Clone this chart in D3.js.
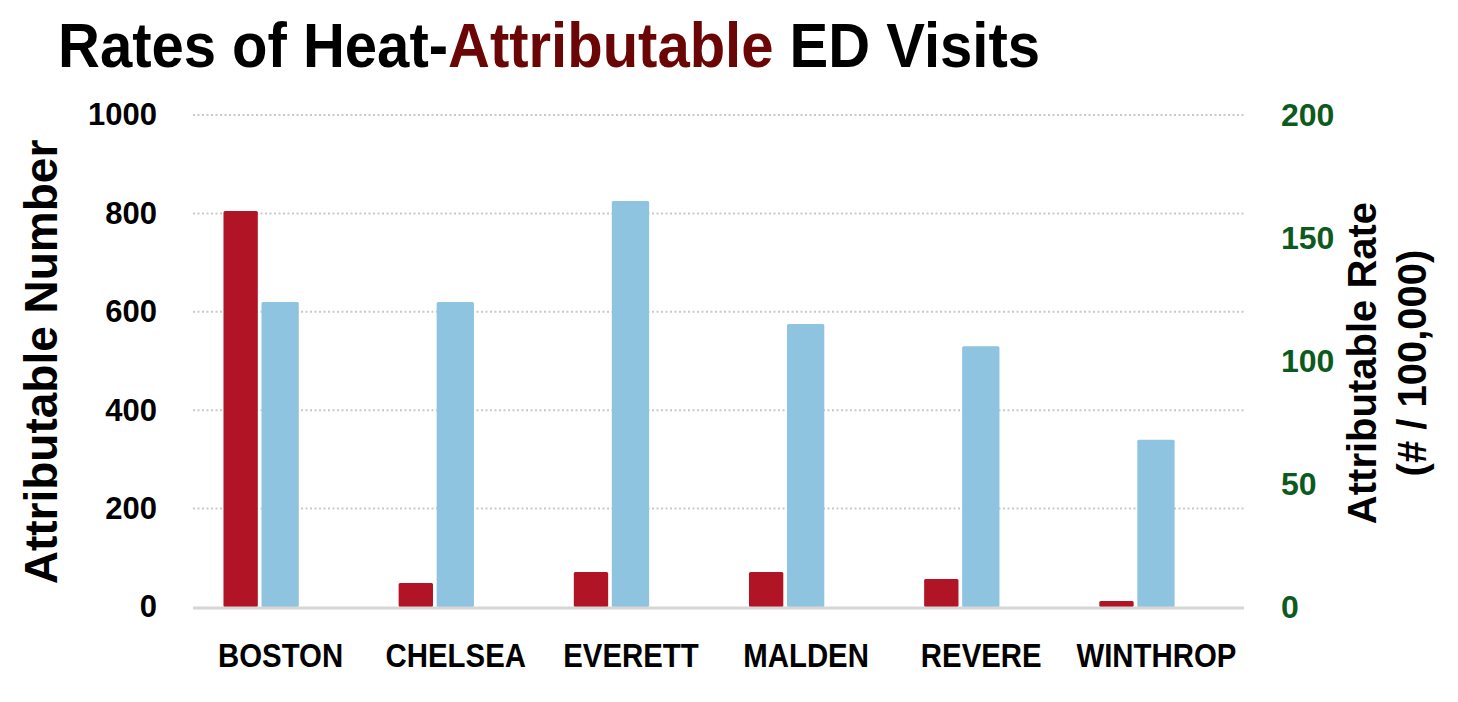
<!DOCTYPE html>
<html>
<head>
<meta charset="utf-8">
<script src="https://cdn.jsdelivr.net/npm/d3@7"></script>
<style>
  body { margin: 0; background: #fff; }
  svg { display: block; font-family: "Liberation Sans", Arial, sans-serif; }
</style>
</head>
<body>
<div id="chart"></div>
<script>
const cities = ["BOSTON", "CHELSEA", "EVERETT", "MALDEN", "REVERE", "WINTHROP"];
const attributableNumber = [805, 49, 71, 71, 57, 12];
const attributableRate = [124, 124, 165, 115, 106, 68];
const numberTicks = [0, 200, 400, 600, 800, 1000];
const rateTicks = [0, 50, 100, 150, 200];

const width = 1458;
const height = 702;
const margin = { top: 115, right: 214, bottom: 95, left: 193 };

const svg = d3
  .select("#chart")
  .append("svg")
  .attr("width", width)
  .attr("height", height);

const x = d3
  .scaleBand()
  .domain(cities)
  .range([margin.left, width - margin.right]);

const yLeft = d3
  .scaleLinear()
  .domain([0, 1000])
  .range([height - margin.bottom, margin.top]);

const yRight = d3
  .scaleLinear()
  .domain([0, 200])
  .range([height - margin.bottom, margin.top]);

// squeeze text horizontally, the source uses a narrow face
function condense(sel, k) {
  sel.each(function () {
    const len = this.getComputedTextLength();
    d3.select(this)
      .attr("textLength", len * k)
      .attr("lengthAdjust", "spacingAndGlyphs");
  });
}

// title
const title = svg
  .append("text")
  .attr("x", 58)
  .attr("y", 67)
  .attr("font-size", 63)
  .attr("font-weight", "bold")
  .attr("textLength", 982)
  .attr("lengthAdjust", "spacingAndGlyphs");
title.append("tspan").attr("fill", "#000").text("Rates of Heat-");
title.append("tspan").attr("fill", "#6b0606").text("Attributable");
title.append("tspan").attr("fill", "#000").text(" ED Visits");

// gridlines
svg
  .append("g")
  .selectAll("line")
  .data(numberTicks.filter((d) => d > 0))
  .join("line")
  .attr("x1", margin.left)
  .attr("x2", width - margin.right)
  .attr("y1", (d) => yLeft(d))
  .attr("y2", (d) => yLeft(d))
  .attr("stroke", "#c9c9c9")
  .attr("stroke-width", 2)
  .attr("stroke-dasharray", "2 2.5");

// bars
const gBars = svg.append("g");
const bw = x.bandwidth();

gBars
  .selectAll(".bar-number")
  .data(cities)
  .join("rect")
  .attr("class", "bar-number")
  .attr("x", (d) => x(d) + bw * 0.174)
  .attr("width", bw * 0.196)
  .attr("y", (d, i) => yLeft(attributableNumber[i]))
  .attr("height", (d, i) => yLeft(0) - yLeft(attributableNumber[i]))
  .attr("rx", 1.5)
  .attr("fill", "#b01425");

gBars
  .selectAll(".bar-rate")
  .data(cities)
  .join("rect")
  .attr("class", "bar-rate")
  .attr("x", (d) => x(d) + bw * 0.391)
  .attr("width", bw * 0.213)
  .attr("y", (d, i) => yRight(attributableRate[i]))
  .attr("height", (d, i) => yRight(0) - yRight(attributableRate[i]))
  .attr("rx", 1.5)
  .attr("fill", "#8fc4e0");

// baseline
svg
  .append("line")
  .attr("x1", margin.left)
  .attr("x2", width - margin.right)
  .attr("y1", yLeft(0) + 1)
  .attr("y2", yLeft(0) + 1)
  .attr("stroke", "#d6d6d6")
  .attr("stroke-width", 3);

// x axis labels
svg
  .append("g")
  .attr("transform", `translate(0,${height - 35})`)
  .call(d3.axisBottom(x).tickSize(0).tickPadding(0))
  .call((g) => g.select(".domain").remove())
  .call((g) =>
    g
      .selectAll("text")
      .attr("dy", 0)
      .attr("fill", "#000")
      .attr("font-size", 33)
      .attr("font-weight", "bold")
      .attr("font-family", "'Liberation Sans', Arial, sans-serif")
      .call(condense, 0.89)
  );

// left axis
svg
  .append("g")
  .attr("transform", `translate(${margin.left - 36},0)`)
  .call(
    d3
      .axisLeft(yLeft)
      .tickValues(numberTicks)
      .tickFormat(d3.format("d"))
      .tickSize(0)
      .tickPadding(0)
  )
  .call((g) => g.select(".domain").remove())
  .call((g) =>
    g
      .selectAll("text")
      .attr("fill", "#000")
      .attr("font-size", 31)
      .attr("font-weight", "bold")
      .attr("font-family", "'Liberation Sans', Arial, sans-serif")
  );

// right axis
svg
  .append("g")
  .attr("transform", `translate(${width - margin.right + 37},0)`)
  .call(
    d3
      .axisRight(yRight)
      .tickValues(rateTicks)
      .tickFormat(d3.format("d"))
      .tickSize(0)
      .tickPadding(0)
  )
  .call((g) => g.select(".domain").remove())
  .call((g) =>
    g
      .selectAll("text")
      .attr("fill", "#0d5a1e")
      .attr("font-size", 32)
      .attr("font-weight", "bold")
      .attr("font-family", "'Liberation Sans', Arial, sans-serif")
  );

// axis titles
svg
  .append("text")
  .attr("transform", `translate(57,362)rotate(-90)`)
  .attr("text-anchor", "middle")
  .attr("font-size", 46)
  .attr("font-weight", "bold")
  .attr("fill", "#000")
  .text("Attributable Number");

const rightTitle = svg
  .append("text")
  .attr("transform", `translate(1376,363)rotate(-90)`)
  .attr("text-anchor", "middle")
  .attr("font-size", 40)
  .attr("font-weight", "bold")
  .attr("fill", "#000");
rightTitle.append("tspan").attr("x", 0).attr("y", 0).text("Attributable Rate");
rightTitle
  .append("tspan")
  .attr("x", 0)
  .attr("y", 50)
  .text("(# / 100,000)");
</script>
</body>
</html>
